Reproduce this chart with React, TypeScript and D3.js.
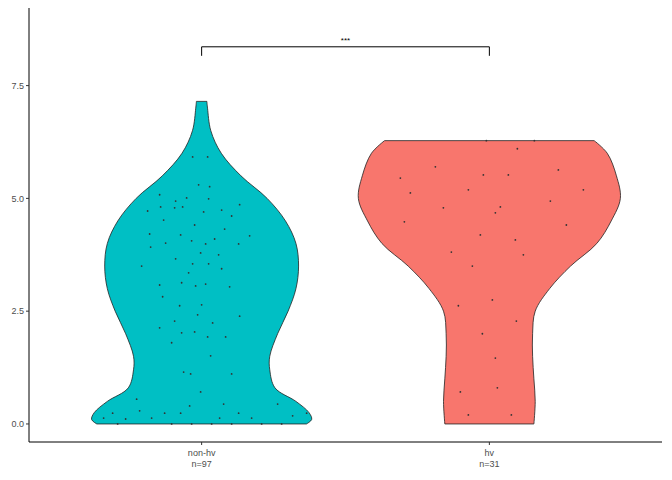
import * as d3 from "d3";
import React from "react";

const categories = ["non-hv", "hv"];
const counts = [97, 31];
const fills = ["#00BFC4", "#F8766D"];
const yTicks = [0, 2.5, 5, 7.5];

// violin profiles: [value, relative half-width]
const nonHvProfile: [number, number][] = [
  [0, 0.8], [0.1, 0.84], [0.25, 0.82], [0.5, 0.72], [0.8, 0.56], [1.2, 0.52], [1.5, 0.52],
  [2.0, 0.58], [2.5, 0.66], [3.0, 0.72], [3.5, 0.74], [4.0, 0.72], [4.5, 0.64],
  [5.0, 0.5], [5.5, 0.3], [6.0, 0.15], [6.5, 0.07], [7.0, 0.045], [7.15, 0.04],
];
const hvProfile: [number, number][] = [
  [0, 0.34], [0.5, 0.35], [1.0, 0.34], [1.5, 0.33], [2.0, 0.33], [2.5, 0.35],
  [3.0, 0.46], [3.5, 0.62], [4.0, 0.82], [4.5, 0.93], [5.0, 1.0], [5.5, 0.97],
  [6.0, 0.9], [6.28, 0.8],
];

// jittered points: [jitter, value]
const nonHvPoints: [number, number][] = [
  [0.06, 5.92], [-0.09, 5.92], [-0.03, 5.3], [0.08, 5.26], [-0.42, 5.08], [-0.15, 5.01],
  [-0.26, 4.94], [-0.41, 4.81], [-0.19, 4.81], [0.07, 4.99], [0.38, 4.86], [-0.27, 4.79],
  [-0.54, 4.72], [0.2, 4.74], [0.02, 4.7], [0.3, 4.61], [-0.38, 4.52], [-0.07, 4.41],
  [-0.52, 4.21], [-0.21, 4.19], [0.23, 4.32], [0.13, 4.1], [-0.1, 4.06], [-0.36, 4.01],
  [0.04, 3.99], [0.37, 3.99], [0.48, 4.17], [-0.51, 3.92], [-0.01, 3.79], [0.17, 3.75],
  [-0.26, 3.66], [-0.6, 3.5], [-0.09, 3.55], [0.07, 3.55], [0.2, 3.44], [-0.13, 3.35],
  [0.04, 3.1], [0.28, 3.04], [-0.42, 3.08], [-0.2, 3.13], [-0.06, 3.06], [-0.39, 2.82],
  [-0.22, 2.62], [0, 2.64], [-0.27, 2.28], [-0.04, 2.42], [0.11, 2.24], [0.38, 2.39],
  [-0.42, 2.13], [-0.2, 2.02], [-0.07, 2.04], [0.06, 1.93], [0.24, 1.93], [-0.3, 1.8],
  [0.09, 1.51], [-0.18, 1.15], [-0.11, 1.11], [0.3, 1.11], [-0.01, 0.71], [-0.65, 0.55],
  [0.22, 0.44], [-0.89, 0.24], [-0.62, 0.29], [-0.37, 0.24], [-0.21, 0.24], [0.37, 0.24],
  [-0.12, 0.4], [0.76, 0.44], [-0.98, 0.13], [-0.76, 0.11], [-0.5, 0.13], [0.91, 0.18],
  [1.05, 0.24], [0.18, 0.13], [0.5, 0.13], [-0.84, 0], [-0.3, 0], [-0.1, 0], [0.1, 0],
  [0.3, 0], [0.6, 0], [0.8, 0],
];
const hvPoints: [number, number][] = [
  [-0.03, 6.28], [0.45, 6.28], [0.28, 6.1], [-0.89, 5.45], [-0.54, 5.7], [-0.06, 5.52],
  [0.19, 5.52], [0.69, 5.63], [-0.79, 5.12], [-0.21, 5.19], [0.94, 5.19], [-0.46, 4.79],
  [0.11, 4.81], [0.61, 4.94], [-0.85, 4.48], [0.06, 4.68], [0.77, 4.41], [-0.09, 4.19],
  [0.26, 4.08], [-0.38, 3.81], [0.34, 3.75], [-0.17, 3.5], [-0.31, 2.62], [0.03, 2.75],
  [0.27, 2.28], [-0.07, 2.0], [0.06, 1.46], [-0.29, 0.71], [0.08, 0.8], [-0.21, 0.2],
  [0.22, 0.2],
];

const profiles = [nonHvProfile, hvProfile];
const points = [nonHvPoints, hvPoints];
const bracketValue = 8.36;
const bracketDrop = 0.2;

export default function App() {
  const width = 672, height = 480;
  const left = 29, right = 662, top = 8, bottom = 442;
  const x = d3.scalePoint<string>().domain(categories).range([left, right]).padding(0.6);
  const y = d3.scaleLinear().domain([-0.4, 9.22]).range([bottom, top]);
  const w = d3.scaleLinear().domain([0, 1]).range([0, 131]);
  const jit = d3.scaleLinear().domain([0, 1]).range([0, 100]);
  const font = "Liberation Sans, Arial, sans-serif";

  return (
    <svg width={width} height={height} style={{ position: "absolute", left: 0, top: 0 }}>
      <rect width={width} height={height} fill="white" />
      {categories.map((c, i) => {
        const cx = x(c)!;
        const area = d3
          .area<[number, number]>()
          .y((d) => y(d[0]))
          .x0((d) => cx - w(d[1]))
          .x1((d) => cx + w(d[1]))
          .curve(d3.curveCatmullRom);
        return (
          <g key={c}>
            <path d={area(profiles[i]) ?? ""} fill={fills[i]} stroke="#222" strokeWidth={0.8} />
            {points[i].map(([j, v], k) => (
              <circle key={k} cx={cx + jit(j)} cy={y(v)} r={0.9} fill="#333" />
            ))}
          </g>
        );
      })}
      {/* significance bracket */}
      <path
        d={`M${x(categories[0])},${y(bracketValue - bracketDrop)}V${y(bracketValue)}H${x(categories[1])}V${y(bracketValue - bracketDrop)}`}
        fill="none"
        stroke="black"
        strokeWidth={1}
      />
      <text x={(x(categories[0])! + x(categories[1])!) / 2} y={y(bracketValue) - 4} fontSize={8} fontFamily={font} textAnchor="middle">
        ***
      </text>
      {/* axes */}
      <line x1={left} x2={left} y1={top} y2={bottom} stroke="black" />
      <line x1={left} x2={right} y1={bottom} y2={bottom} stroke="black" />
      {yTicks.map((t) => (
        <g key={t} transform={`translate(${left},${y(t)})`}>
          <line x2={-3} stroke="#333" />
          <text x={-5} dy="0.35em" textAnchor="end" fontSize={9} fontFamily={font} fill="#4d4d4d">
            {t.toFixed(1)}
          </text>
        </g>
      ))}
      {categories.map((c, i) => (
        <g key={c} transform={`translate(${x(c)},${bottom})`}>
          <line y2={3} stroke="#333" />
          <text y={14} textAnchor="middle" fontSize={9} fontFamily={font} fill="#4d4d4d">{c}</text>
          <text y={25} textAnchor="middle" fontSize={9} fontFamily={font} fill="#4d4d4d">{`n=${counts[i]}`}</text>
        </g>
      ))}
    </svg>
  );
}
